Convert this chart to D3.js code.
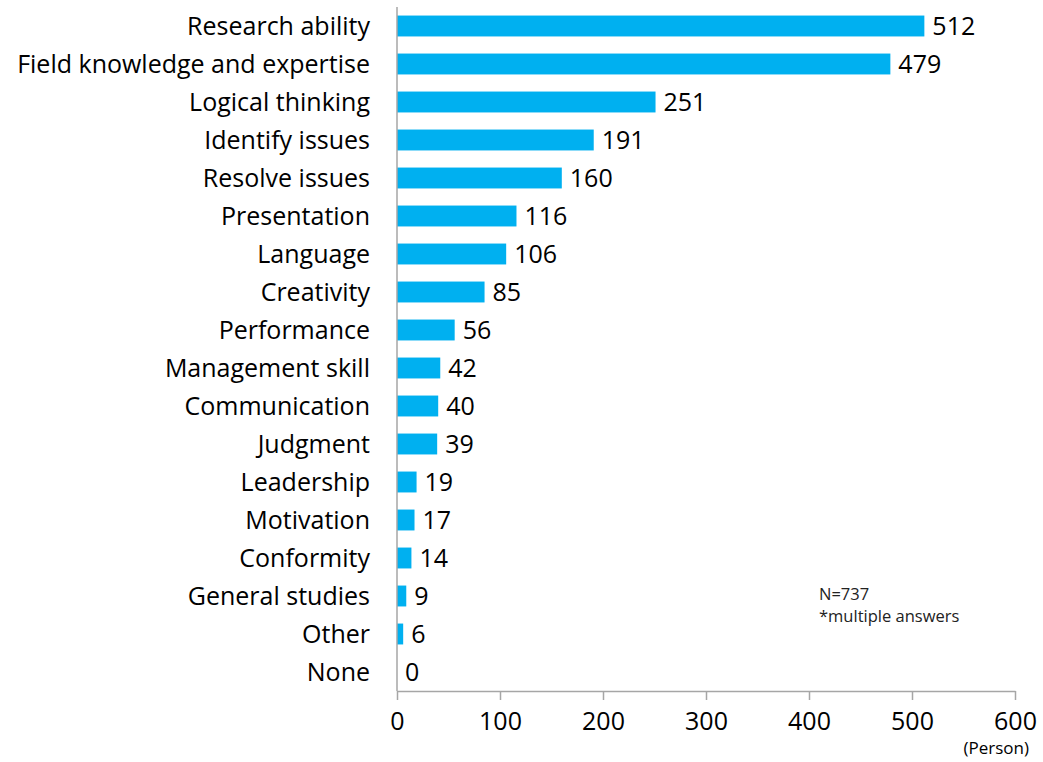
<!DOCTYPE html>
<html>
<head>
<meta charset="UTF-8">
<script src="https://d3js.org/d3.v7.min.js"></script>
<style>
	body { margin: 0; background: #fff; }
	svg text { font-family: "Open Sans", sans-serif; fill: #000; }
</style>
</head>
<body>
<svg class="Chart" width="1043" height="762"></svg>
<script>
var Categories = ["Research ability", "Field knowledge and expertise", "Logical thinking", "Identify issues",
	"Resolve issues", "Presentation", "Language", "Creativity", "Performance", "Management skill",
	"Communication", "Judgment ", "Leadership", "Motivation", "Conformity ", "General studies", "Other", "None"];
var Counts = [512, 479, 251, 191, 160, 116, 106, 85, 56, 42, 40, 39, 19, 17, 14, 9, 6, 0];
var XTicks = [0, 100, 200, 300, 400, 500, 600];

var Margin = {"Left":397, "Top":7, "Right":28, "Bottom":71};
var Width = 1043 - Margin.Left - Margin.Right;
var Height = 762 - Margin.Top - Margin.Bottom;

var Svg = d3.select(".Chart");
var Chart = Svg.append("g").attr("transform", "translate(" + Margin.Left + "," + Margin.Top + ")");

var XScale = d3.scaleLinear().domain([0, 600]).range([0, Width]);
var YScale = d3.scaleBand().domain(Categories).range([0, Height]).paddingInner(0.45).paddingOuter(0.225);

Chart.selectAll("rect")
	.data(Categories)
	.enter()
	.append("rect")
	.attr("x", 0)
	.attr("y", function(d){ return YScale(d); })
	.attr("width", function(d, i){ return XScale(Counts[i]); })
	.attr("height", YScale.bandwidth())
	.style("fill", "#00B0F0");

// value labels
Chart.selectAll(".Value")
	.data(Categories)
	.enter()
	.append("text")
	.attr("class", "Value")
	.attr("x", function(d, i){ return XScale(Counts[i]) + 8; })
	.attr("y", function(d){ return YScale(d) + YScale.bandwidth()/2; })
	.attr("dy", "0.36em")
	.style("font-size", "25px")
	.text(function(d, i){ return Counts[i]; });

// category labels
Chart.selectAll(".Cat")
	.data(Categories)
	.enter()
	.append("text")
	.attr("class", "Cat")
	.attr("x", -27)
	.attr("y", function(d){ return YScale(d) + YScale.bandwidth()/2; })
	.attr("dy", "0.36em")
	.attr("text-anchor", "end")
	.style("font-size", "25px")
	.text(function(d){ return d; });

// y axis line
Chart.append("line")
	.attr("x1", 0).attr("x2", 0)
	.attr("y1", 0).attr("y2", Height)
	.style("stroke", "#a6a6a6").style("stroke-width", 1.5);

var XAxis = Chart.append("g")
	.attr("transform", "translate(0," + Height + ")")
	.call(d3.axisBottom(XScale).tickValues(XTicks).tickSize(9).tickPadding(12).tickSizeOuter(0));
XAxis.select(".domain").style("stroke", "#a6a6a6").style("stroke-width", 1.5);
XAxis.selectAll(".tick line").style("stroke", "#a6a6a6").style("stroke-width", 1.5);
XAxis.selectAll("text")
	.style("font-family", "'Open Sans', sans-serif")
	.style("font-size", "25px")
	.style("fill", "#000");

Chart.append("text")
	.attr("x", 1029 - Margin.Left)
	.attr("y", 754 - Margin.Top)
	.attr("text-anchor", "end")
	.style("font-size", "17px")
	.text("(Person)");

Chart.append("text")
	.attr("x", 819 - Margin.Left)
	.attr("y", 600 - Margin.Top)
	.style("font-size", "16.5px")
	.style("fill", "#222")
	.text("N=737");
Chart.append("text")
	.attr("x", 819 - Margin.Left)
	.attr("y", 622 - Margin.Top)
	.style("font-size", "16.5px")
	.style("fill", "#222")
	.text("*multiple answers");
</script>
</body>
</html>
